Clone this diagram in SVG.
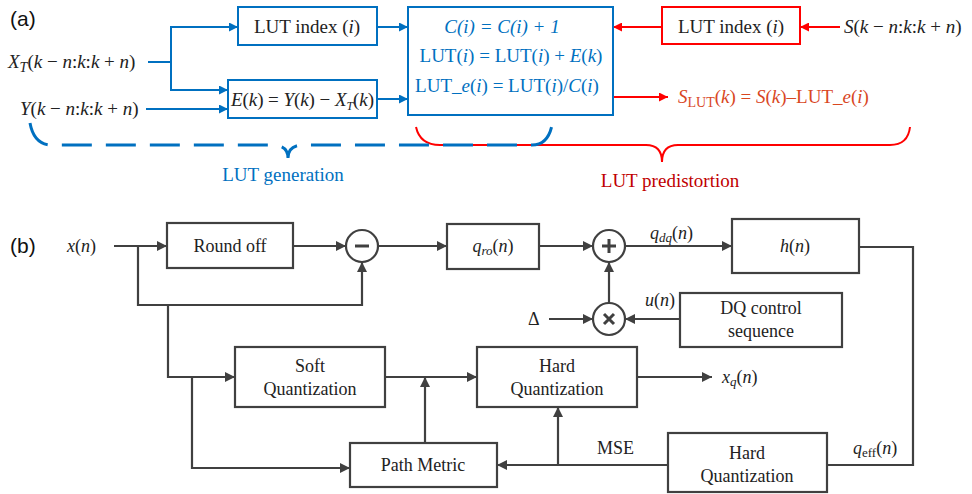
<svg xmlns="http://www.w3.org/2000/svg" width="972" height="494" viewBox="0 0 972 494">
<defs>
<style>
.t{font-family:"Liberation Serif","Times New Roman",serif;font-size:18px;fill:#222}
.ta{font-family:"Liberation Serif","Times New Roman",serif;font-size:19px;fill:#222}
.lbl{font-family:"Liberation Sans",Arial,sans-serif;font-size:21px;fill:#111}
.i{font-style:italic}
.blue{fill:#0070C0}
.bl{stroke:#0070C0;stroke-width:2;fill:none}
.rd{stroke:#FF0000;stroke-width:2;fill:none}
.gl{stroke:#404040;stroke-width:2.2;fill:none}
.bx{fill:#fff;stroke:#404040;stroke-width:2.2}
.bxb{fill:#fff;stroke:#0070C0;stroke-width:2}
.bxr{fill:#fff;stroke:#FF0000;stroke-width:2}
</style>
<marker id="mb" viewBox="0 0 10 10" refX="10" refY="5" markerWidth="11" markerHeight="9" orient="auto" markerUnits="userSpaceOnUse"><path d="M0,0L10,5L0,10z" fill="#0070C0"/></marker>
<marker id="mr" viewBox="0 0 10 10" refX="10" refY="5" markerWidth="12" markerHeight="9" orient="auto" markerUnits="userSpaceOnUse"><path d="M0,0L10,5L0,10z" fill="#FF0000"/></marker>
<marker id="mg" viewBox="0 0 10 10" refX="10" refY="5" markerWidth="13" markerHeight="10" orient="auto" markerUnits="userSpaceOnUse"><path d="M0,0L10,5L0,10z" fill="#404040"/></marker>
</defs>

<!-- panel labels -->
<text class="lbl" x="10" y="26">(a)</text>
<text class="lbl" x="10" y="253">(b)</text>

<!-- ===== (a) connectors ===== -->
<g id="connectors-a">
<path class="bl" d="M148,62H171V27H238" marker-end="url(#mb)"/>
<path class="bl" d="M171,62V90H228" marker-end="url(#mb)"/>
<path class="bl" d="M146,109H228" marker-end="url(#mb)"/>
<path class="bl" d="M377,27H408" marker-end="url(#mb)"/>
<path class="bl" d="M377,99H408" marker-end="url(#mb)"/>
<path class="rd" d="M662,27H613" marker-end="url(#mr)"/>
<path class="rd" d="M840,27H800" marker-end="url(#mr)"/>
<path class="rd" d="M613,97H668" marker-end="url(#mr)"/>
</g>

<!-- braces -->
<g id="brace-red">
<path class="rd" d="M416,127Q420,145 440,145H646Q662,145 662,162Q662,145 678,145H890Q908,145 910,127"/>
<text class="ta" x="670" y="187" text-anchor="middle" style="fill:#C00000">LUT predistortion</text>
</g>
<g id="brace-blue">
<path d="M30,123Q34,145 52,145H272Q288,145 288,158Q288,145 304,145H532Q548,145 552,125" fill="none" stroke="#0070C0" stroke-width="3" stroke-dasharray="30 14"/>
<text class="ta blue" x="283" y="181" text-anchor="middle">LUT generation</text>
</g>

<!-- inputs -->
<g id="in-xt">
<text class="ta" x="8" y="68"><tspan class="i">X</tspan><tspan class="i" font-size="14" dy="4">T</tspan><tspan dy="-4">(</tspan><tspan class="i">k</tspan> − <tspan class="i">n</tspan>:<tspan class="i">k</tspan>:<tspan class="i">k</tspan> + <tspan class="i">n</tspan>)</text>
</g>
<g id="in-y">
<text class="ta" x="20" y="115"><tspan class="i">Y</tspan>(<tspan class="i">k</tspan> − <tspan class="i">n</tspan>:<tspan class="i">k</tspan>:<tspan class="i">k</tspan> + <tspan class="i">n</tspan>)</text>
</g>

<g id="lut-index-blue">
<rect class="bxb" x="238" y="7" width="139" height="38"/>
<text class="ta" x="307" y="33" text-anchor="middle">LUT index (<tspan class="i">i</tspan>)</text>
</g>
<g id="error-box">
<rect class="bxb" x="228" y="80" width="149" height="38"/>
<text class="ta" x="231" y="106" font-size="17" textLength="143" lengthAdjust="spacing"><tspan class="i">E</tspan>(<tspan class="i">k</tspan>) = <tspan class="i">Y</tspan>(<tspan class="i">k</tspan>) − <tspan class="i">X</tspan><tspan class="i" font-size="12" dy="4">T</tspan><tspan dy="-4">(</tspan><tspan class="i">k</tspan>)</text>
</g>
<g id="lut-update">
<rect class="bxb" x="408" y="7" width="205" height="108"/>
<text class="ta blue i" x="502" y="33" text-anchor="middle">C(i) = C(i) + 1</text>
<text class="ta blue" x="511" y="62" text-anchor="middle">LUT(<tspan class="i">i</tspan>) = LUT(<tspan class="i">i</tspan>) + <tspan class="i">E</tspan>(<tspan class="i">k</tspan>)</text>
<text class="ta blue" x="507" y="92" text-anchor="middle">LUT_<tspan class="i">e</tspan>(<tspan class="i">i</tspan>) = LUT(<tspan class="i">i</tspan>)/<tspan class="i">C</tspan>(<tspan class="i">i</tspan>)</text>
</g>
<g id="lut-index-red">
<rect class="bxr" x="662" y="7" width="138" height="37"/>
<text class="ta" x="731" y="33" text-anchor="middle">LUT index (<tspan class="i">i</tspan>)</text>
</g>
<g id="in-s">
<text class="ta" x="844" y="33"><tspan class="i">S</tspan>(<tspan class="i">k</tspan> − <tspan class="i">n</tspan>:<tspan class="i">k</tspan>:<tspan class="i">k</tspan> + <tspan class="i">n</tspan>)</text>
</g>
<g id="out-slut">
<text class="ta" x="678" y="103" style="fill:#D9471F"><tspan class="i">S</tspan><tspan font-size="14" dy="4">LUT</tspan><tspan dy="-4">(</tspan><tspan class="i">k</tspan>) = <tspan class="i">S</tspan>(<tspan class="i">k</tspan>)–LUT_<tspan class="i">e</tspan>(<tspan class="i">i</tspan>)</text>
</g>

<!-- ===== (b) connectors ===== -->
<g id="connectors-b">
<path class="gl" d="M114,246H167" marker-end="url(#mg)"/>
<path class="gl" d="M138,246V305H362V262" marker-end="url(#mg)"/>
<path class="gl" d="M168,305V377H235" marker-end="url(#mg)"/>
<path class="gl" d="M192,377V468H350" marker-end="url(#mg)"/>
<path class="gl" d="M293,246H346" marker-end="url(#mg)"/>
<path class="gl" d="M378,246H447" marker-end="url(#mg)"/>
<path class="gl" d="M539,246H593" marker-end="url(#mg)"/>
<path class="gl" d="M625,246H732" marker-end="url(#mg)"/>
<path class="gl" d="M609,303V262" marker-end="url(#mg)"/>
<path class="gl" d="M549,319H593" marker-end="url(#mg)"/>
<path class="gl" d="M680,319H625" marker-end="url(#mg)"/>
<path class="gl" d="M385,377H477" marker-end="url(#mg)"/>
<path class="gl" d="M425,443V377" marker-end="url(#mg)"/>
<path class="gl" d="M637,377H712" marker-end="url(#mg)"/>
<path class="gl" d="M859,247H913V465H827"/>
<path class="gl" d="M668,465H497" marker-end="url(#mg)"/>
<path class="gl" d="M558,465V407" marker-end="url(#mg)"/>
</g>

<g id="xn"><text class="t" x="67" y="252"><tspan class="i">x</tspan>(<tspan class="i">n</tspan>)</text></g>
<g id="roundoff">
<rect class="bx" x="167" y="223" width="126" height="45"/>
<text class="t" x="230" y="252" text-anchor="middle">Round off</text>
</g>
<g id="minus">
<circle cx="362" cy="246" r="16" fill="#fff" stroke="#404040" stroke-width="2.2"/>
<path d="M355,246H369" stroke="#404040" stroke-width="3"/>
</g>
<g id="qro">
<rect class="bx" x="447" y="224" width="92" height="45"/>
<text class="t" x="493" y="252" text-anchor="middle"><tspan class="i">q</tspan><tspan class="i" font-size="13" dy="3">ro</tspan><tspan dy="-3">(</tspan><tspan class="i">n</tspan>)</text>
</g>
<g id="plus">
<circle cx="609" cy="246" r="16" fill="#fff" stroke="#404040" stroke-width="2.2"/>
<path d="M602,246H616M609,239V253" stroke="#404040" stroke-width="3"/>
</g>
<g id="times">
<circle cx="609" cy="319" r="16" fill="#fff" stroke="#404040" stroke-width="2.2"/>
<path d="M604,314L614,324M614,314L604,324" stroke="#404040" stroke-width="3"/>
</g>
<g id="qdq"><text class="t" x="650" y="239"><tspan class="i">q</tspan><tspan class="i" font-size="13" dy="3">dq</tspan><tspan dy="-3">(</tspan><tspan class="i">n</tspan>)</text></g>
<g id="hn">
<rect class="bx" x="732" y="219" width="127" height="54"/>
<text class="t" x="795" y="252" text-anchor="middle"><tspan class="i">h</tspan>(<tspan class="i">n</tspan>)</text>
</g>
<g id="delta"><text class="t" x="528" y="325">Δ</text></g>
<g id="un"><text class="t" x="645" y="306"><tspan class="i">u</tspan>(<tspan class="i">n</tspan>)</text></g>
<g id="dq">
<rect class="bx" x="680" y="293" width="162" height="54"/>
<text class="t" x="761" y="314" text-anchor="middle">DQ control</text>
<text class="t" x="761" y="337" text-anchor="middle">sequence</text>
</g>
<g id="softq">
<rect class="bx" x="235" y="347" width="150" height="60"/>
<text class="t" x="310" y="372" text-anchor="middle">Soft</text>
<text class="t" x="310" y="395" text-anchor="middle">Quantization</text>
</g>
<g id="hardq">
<rect class="bx" x="477" y="347" width="160" height="60"/>
<text class="t" x="557" y="372" text-anchor="middle">Hard</text>
<text class="t" x="557" y="395" text-anchor="middle">Quantization</text>
</g>
<g id="xq"><text class="t" x="722" y="383"><tspan class="i">x</tspan><tspan class="i" font-size="13" dy="3">q</tspan><tspan dy="-3">(</tspan><tspan class="i">n</tspan>)</text></g>
<g id="pathmetric">
<rect class="bx" x="350" y="443" width="147" height="44"/>
<text class="t" x="423" y="471" text-anchor="middle">Path Metric</text>
</g>
<g id="mse"><text class="t" x="597" y="454">MSE</text></g>
<g id="hardq2">
<rect class="bx" x="668" y="433" width="159" height="59"/>
<text class="t" x="747" y="459" text-anchor="middle">Hard</text>
<text class="t" x="747" y="482" text-anchor="middle">Quantization</text>
</g>
<g id="qeff"><text class="t" x="853" y="454"><tspan class="i">q</tspan><tspan font-size="13" dy="3">eff</tspan><tspan dy="-3">(</tspan><tspan class="i">n</tspan>)</text></g>
</svg>
